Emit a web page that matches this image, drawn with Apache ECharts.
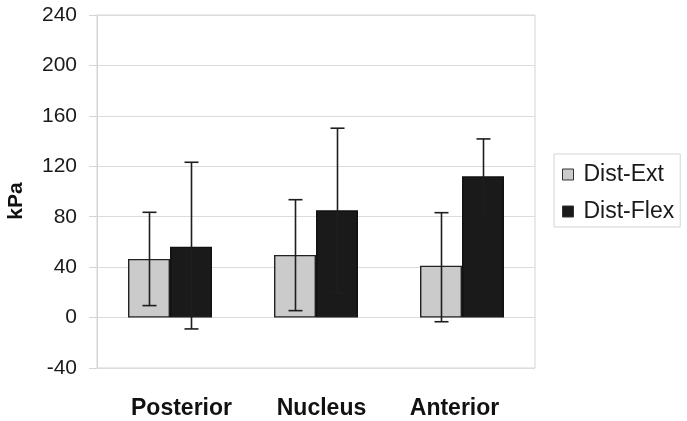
<!DOCTYPE html>
<html><head><meta charset="utf-8">
<script src="https://cdn.jsdelivr.net/npm/echarts@6/dist/echarts.min.js"></script>
<style>html,body{margin:0;padding:0;background:#fff}#c{width:687px;height:421px}</style>
</head><body><div id="c"></div>
<script>
const categories = ['Posterior', 'Nucleus', 'Anterior'];
const extValues = [46.5, 49.7, 41.2];
const flexValues = [56.2, 85.1, 112.1];
const extLow = [9.5, 5.5, -3.3];
const extHigh = [83.5, 93.5, 83.2];
const flexLow = [-9, 19.8, 82.2];
const flexHigh = [123.2, 150.2, 141.7];
const yTicks = [-40, 0, 40, 80, 120, 160, 200, 240];

const FONT = 'Liberation Sans, Arial, sans-serif';
const BW = 42;
function errSeries(name, low, high, offset) {
  return {
    type: 'custom', name: name + '-err', z: 10,
    data: categories.map((c, i) => [i, low[i], high[i]]),
    encode: { x: 0, y: [1, 2] },
    renderItem: function (params, api) {
      const a = api.coord([api.value(0), api.value(1)]);
      const b = api.coord([api.value(0), api.value(2)]);
      const x = Math.round(a[0] + offset) + 0.5;
      const hw = 7;
      const st = { stroke: '#1e1e1e', lineWidth: 1.6 };
      return { type: 'group', children: [
        { type: 'line', shape: { x1: x, y1: a[1], x2: x, y2: b[1] }, style: st },
        { type: 'line', shape: { x1: x - hw, y1: a[1], x2: x + hw, y2: a[1] }, style: st },
        { type: 'line', shape: { x1: x - hw, y1: b[1], x2: x + hw, y2: b[1] }, style: st }
      ]};
    }
  };
}
const labStyle = { fontFamily: FONT, fontWeight: 'bold', fontSize: 23, color: '#111' };

const chart = echarts.init(document.getElementById('c'));
chart.setOption({
  animation: false,
  grid: { left: 97, right: 152, top: 15, bottom: 53, show: true, borderColor: '#d4d4d4', borderWidth: 1 },
  legend: {
    data: ['Dist-Ext', 'Dist-Flex'], orient: 'vertical', left: 554, top: 154,
    icon: 'rect', itemWidth: 11, itemHeight: 11, itemGap: 14,
    itemStyle: { borderColor: '#333', borderWidth: 1 },
    borderColor: '#d4d4d4', borderWidth: 1,
    padding: [9, 6, 4, 8],
    textStyle: { fontFamily: FONT, fontSize: 23, color: '#1a1a1a', padding: [0, 0, 0, 5] }
  },
  graphic: [{
    type: 'text', x: 16, y: 201, rotation: Math.PI / 2,
    style: { text: 'kPa', font: 'bold 21px ' + FONT, fill: '#111', align: 'center', verticalAlign: 'middle' }
  }],
  xAxis: {
    type: 'category', data: categories,
    axisLine: { show: false }, axisTick: { show: false },
    axisLabel: {
      margin: 29,
      formatter: (v, i) => '{c' + i + '|' + v + '}',
      rich: {
        c0: Object.assign({ padding: [0, 0, 0, 23] }, labStyle),
        c1: Object.assign({ padding: [0, 0, 0, 11] }, labStyle),
        c2: Object.assign({ padding: [0, 15, 0, 0] }, labStyle)
      }
    }
  },
  yAxis: {
    type: 'value', min: -40, max: 240, interval: 40,
    axisLine: { show: true, lineStyle: { color: '#d4d4d4' } },
    axisTick: { show: true, length: 8, lineStyle: { color: '#d4d4d4' } },
    splitLine: { lineStyle: { color: '#dcdcdc' } },
    axisLabel: { fontFamily: FONT, fontSize: 21, color: '#1a1a1a', margin: 20,
      formatter: v => yTicks.includes(v) ? String(v) : '' }
  },
  series: [
    { type: 'bar', name: 'Dist-Ext', data: extValues, barWidth: BW, barGap: '0%',
      itemStyle: { color: '#cbcbcb', borderColor: '#222', borderWidth: 1.4 } },
    { type: 'bar', name: 'Dist-Flex', data: flexValues, barWidth: BW, barGap: '0%',
      itemStyle: { color: '#1a1a1a', borderColor: '#111', borderWidth: 1.4 } },
    errSeries('Dist-Ext', extLow, extHigh, -BW / 2),
    errSeries('Dist-Flex', flexLow, flexHigh, BW / 2)
  ]
});
</script></body></html>
